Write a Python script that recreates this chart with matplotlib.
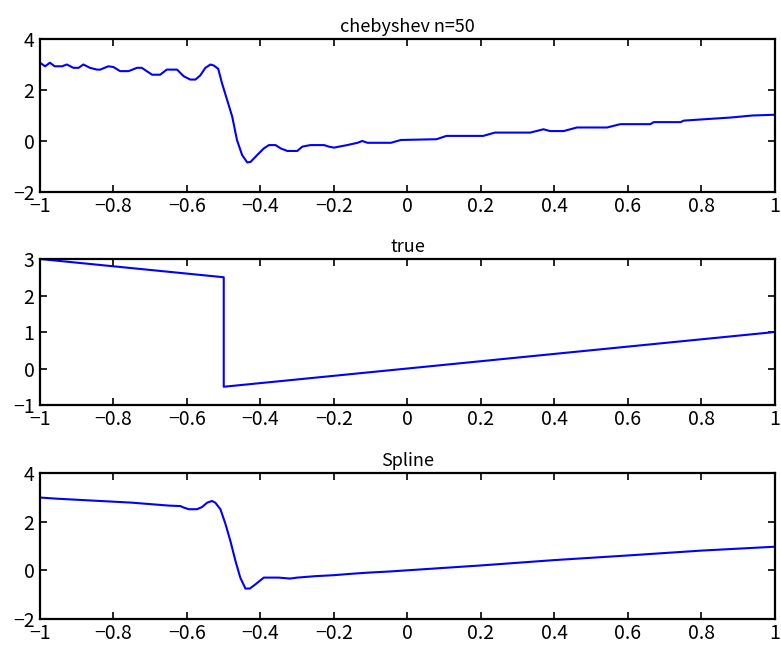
import matplotlib
matplotlib.use("Agg")
import matplotlib.pyplot as plt

plt.rcParams['font.family'] = ['Noto Sans CJK JP', 'DejaVu Sans']

# chebyshev n=50
cheb_x = [-1.0, -0.986, -0.973, -0.96, -0.94, -0.927, -0.909, -0.895, -0.882, -0.864,
          -0.845, -0.836, -0.814, -0.8, -0.782, -0.759, -0.736, -0.723, -0.695, -0.673,
          -0.655, -0.627, -0.609, -0.591, -0.577, -0.564, -0.55, -0.536, -0.527, -0.515,
          -0.505, -0.491, -0.477, -0.464, -0.45, -0.436, -0.427, -0.409, -0.391, -0.377,
          -0.359, -0.345, -0.327, -0.3, -0.286, -0.264, -0.227, -0.214, -0.2, -0.186,
          -0.164, -0.136, -0.123, -0.109, -0.045, -0.018, 0.079, 0.106, 0.206, 0.238,
          0.334, 0.37, 0.388, 0.425, 0.461, 0.543, 0.579, 0.661, 0.67, 0.743,
          0.752, 0.815, 0.879, 0.938, 1.0]
cheb_y = [3.07, 2.93, 3.07, 2.93, 2.93, 3.0, 2.87, 2.87, 3.0, 2.87,
          2.80, 2.80, 2.93, 2.90, 2.74, 2.74, 2.87, 2.87, 2.60, 2.60,
          2.80, 2.80, 2.54, 2.41, 2.41, 2.57, 2.87, 3.0, 2.96, 2.83,
          2.28, 1.62, 0.96, 0.04, -0.55, -0.84, -0.82, -0.55, -0.29, -0.16,
          -0.16, -0.29, -0.39, -0.39, -0.22, -0.16, -0.16, -0.22, -0.26, -0.22,
          -0.16, -0.07, 0.0, -0.07, -0.07, 0.04, 0.07, 0.2, 0.2, 0.33,
          0.33, 0.46, 0.39, 0.39, 0.53, 0.53, 0.66, 0.66, 0.74, 0.74,
          0.8, 0.86, 0.92, 1.0, 1.03]

# true function
true_x = [-1.0, -0.5, -0.5, 1.0]
true_y = [3.0, 2.5, -0.5, 1.0]

# spline
spl_x = [-1.0, -0.95, -0.9, -0.85, -0.8, -0.75, -0.7, -0.65, -0.618, -0.609,
         -0.595, -0.573, -0.559, -0.545, -0.532, -0.523, -0.509, -0.495, -0.482, -0.468,
         -0.455, -0.441, -0.429, -0.414, -0.391, -0.35, -0.32, -0.3, -0.25, -0.2,
         -0.15, -0.1, -0.05, 0.0, 0.2, 0.4, 0.6, 0.8, 1.0]
spl_y = [2.99, 2.94, 2.9, 2.86, 2.82, 2.78, 2.72, 2.66, 2.64, 2.58,
         2.51, 2.51, 2.6, 2.78, 2.85, 2.78, 2.51, 1.89, 1.21, 0.38,
         -0.3, -0.75, -0.75, -0.58, -0.3, -0.3, -0.34, -0.3, -0.24, -0.2,
         -0.14, -0.09, -0.05, 0.0, 0.2, 0.42, 0.61, 0.81, 0.97]

panels = [
    ("chebyshev n=50", cheb_x, cheb_y, (-2, 4), [-2, 0, 2, 4], [0.7037, 0.2361]),
    ("true", true_x, true_y, (-1, 3), [-1, 0, 1, 2, 3], [0.375, 0.2253]),
    ("Spline", spl_x, spl_y, (-2, 4), [-2, 0, 2, 4], [0.0448, 0.2253]),
]

xticks = [-1, -0.8, -0.6, -0.4, -0.2, 0, 0.2, 0.4, 0.6, 0.8, 1]
xlabels = ["\u22121", "\u22120.8", "\u22120.6", "\u22120.4", "\u22120.2",
           "0", "0.2", "0.4", "0.6", "0.8", "1"]

fig = plt.figure(figsize=(7.81, 6.48), dpi=100)

for title, xs, ys, ylim, yt, (b, h) in panels:
    ax = fig.add_axes([0.0512, b, 0.9411, h])
    ax.plot(xs, ys, color=(0, 0, 1), lw=1.5)
    ax.set_xlim(-1, 1)
    ax.set_ylim(*ylim)
    ax.set_xticks(xticks)
    ax.set_xticklabels(xlabels)
    ax.set_yticks(yt)
    ax.set_yticklabels([str(v).replace("-", "\u2212") for v in yt])
    ax.tick_params(direction="in", top=True, right=True, length=5, width=1.2,
                   labelsize=14, pad=3)
    ax.tick_params(axis="y", pad=4)
    for s in ax.spines.values():
        s.set_linewidth(1.6)
    ax.set_title(title, fontsize=13, pad=5)

fig.savefig("out.png", dpi=100)
